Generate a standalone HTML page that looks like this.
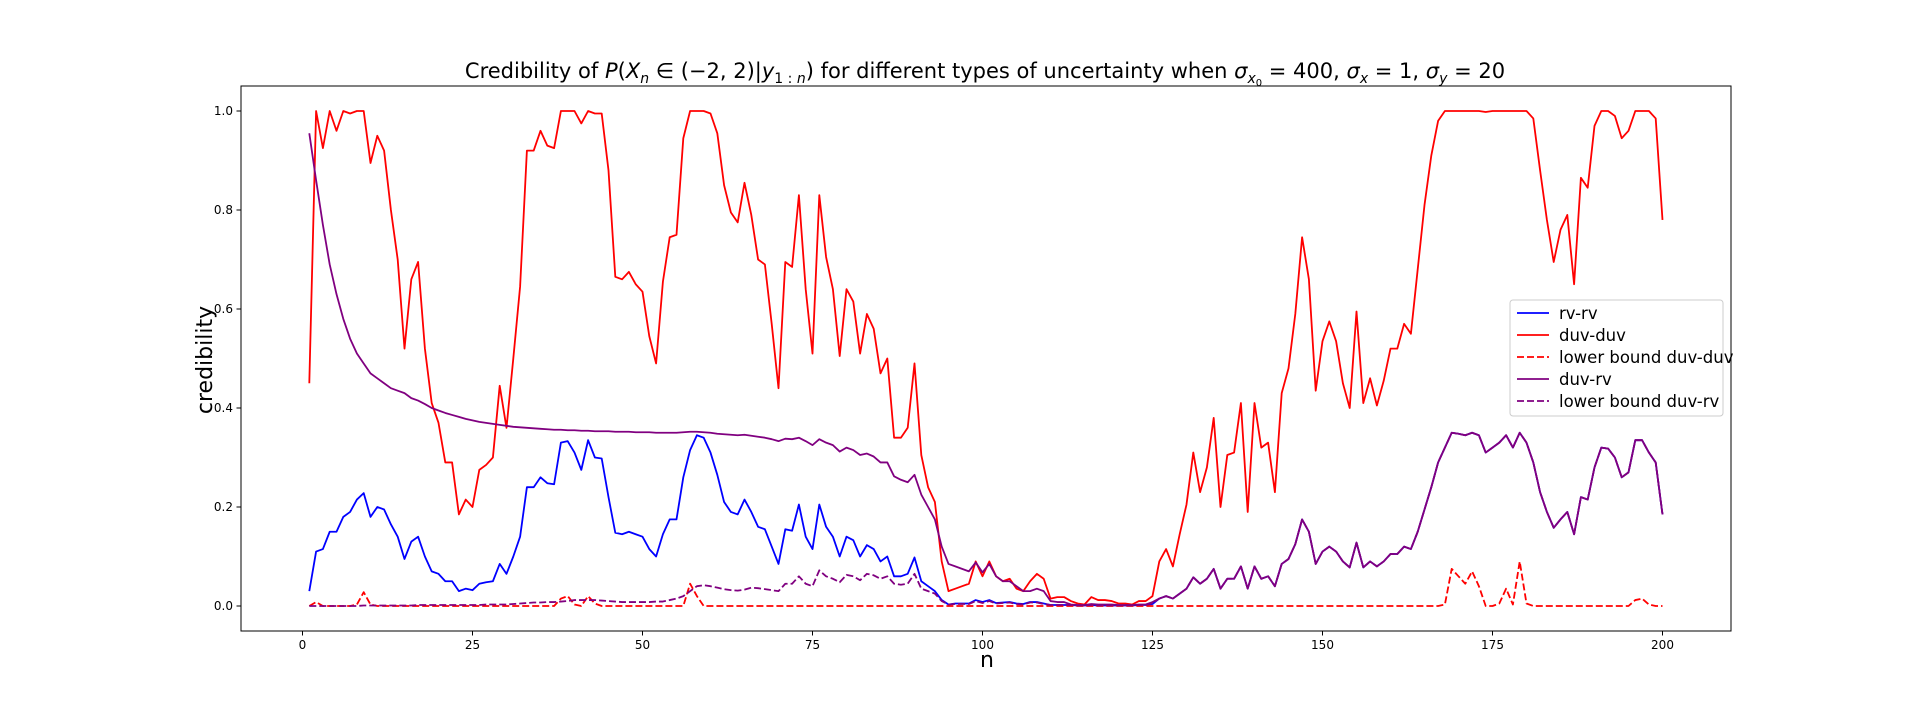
<!DOCTYPE html>
<html><head><meta charset="utf-8">
<style>
html,body{margin:0;padding:0;background:#fff;}
body{width:1924px;height:720px;overflow:hidden;position:relative;font-family:"DejaVu Sans","Liberation Sans",sans-serif;}
svg{position:absolute;left:0;top:0;}
</style></head>
<body>
<svg id="chart" width="1924" height="720">
<text x="985" y="78" text-anchor="middle" font-size="21" fill="#000">Credibility of <tspan font-style="italic">P</tspan>(<tspan font-style="italic">X</tspan><tspan font-style="italic" font-size="14" dy="5">n</tspan><tspan dy="-5"> ∈ (−2, 2)|</tspan><tspan font-style="italic">y</tspan><tspan font-size="14" dy="5">1 : <tspan font-style="italic">n</tspan></tspan><tspan dy="-5">) for different types of uncertainty when </tspan><tspan font-style="italic">σ</tspan><tspan font-style="italic" font-size="14" dy="5">x</tspan><tspan font-size="10" dy="3">0</tspan><tspan dy="-8"> = 400, </tspan><tspan font-style="italic">σ</tspan><tspan font-style="italic" font-size="14" dy="5">x</tspan><tspan dy="-5"> = 1, </tspan><tspan font-style="italic">σ</tspan><tspan font-style="italic" font-size="14" dy="5">y</tspan><tspan dy="-5"> = 20</tspan></text>
<g id="plot"></g>
<text x="987" y="667" text-anchor="middle" font-size="22">n</text>
<text x="0" y="0" transform="translate(212,360) rotate(-90)" text-anchor="middle" font-size="22">credibility</text>
</svg>
<script>
const xTicks=[0,25,50,75,100,125,150,175,200];
const yTicks=[0.0,0.2,0.4,0.6,0.8,1.0];
const yTickLabels=["0.0","0.2","0.4","0.6","0.8","1.0"];
const duvDuv=[.45,1.0,.925,1.0,.96,1.0,.995,1.0,1.0,.895,
.95,.92,.8,.7,.52,.66,.695,.52,.41,.37,
.29,.29,.185,.215,.2,.275,.285,.3,.445,.36,
.5,.645,.92,.92,.96,.93,.925,1.0,1.0,1.0,
.975,1.0,.995,.995,.88,.665,.66,.675,.65,.635,
.545,.49,.655,.745,.75,.945,1.0,1.0,1.0,.995,
.955,.85,.795,.775,.855,.79,.7,.69,.57,.44,
.695,.685,.83,.64,.51,.83,.705,.64,.505,.64,
.615,.51,.59,.56,.47,.5,.34,.34,.36,.49,
.305,.24,.21,.09,.03,.035,.04,.045,.09,.06,
.09,.06,.05,.055,.035,.03,.05,.065,.055,.015,
.018,.018,.01,.005,.003,.018,.012,.012,.01,.005,
.005,.003,.01,.01,.02,.09,.115,.08,.145,.205,
.31,.23,.28,.38,.2,.305,.31,.41,.19,.41,
.32,.33,.23,.43,.48,.59,.745,.66,.435,.535,
.575,.535,.45,.4,.595,.41,.46,.405,.455,.52,
.52,.57,.55,.68,.81,.91,.98,1.0,1.0,1.0,
1.0,1.0,1.0,.998,1.0,1.0,1.0,1.0,1.0,1.0,
.985,.88,.78,.695,.76,.79,.65,.865,.845,.97,
1.0,1.0,.99,.945,.96,1.0,1.0,1.0,.985,.78];
const duvRv=[.955,.86,.77,.69,.63,.58,.54,.51,.49,.47,
.46,.45,.44,.435,.43,.42,.415,.408,.4,.395,
.39,.386,.382,.378,.375,.372,.37,.368,.366,.364,
.362,.361,.36,.359,.358,.357,.356,.356,.355,.355,
.354,.354,.353,.353,.353,.352,.352,.352,.351,.351,
.351,.35,.35,.35,.35,.351,.352,.352,.351,.35,
.348,.347,.346,.345,.346,.344,.342,.34,.337,.333,
.338,.337,.34,.333,.325,.337,.33,.325,.312,.32,
.315,.305,.308,.302,.29,.29,.262,.255,.25,.265,
.225,.2,.175,.12,.085,.08,.075,.07,.088,.068,
.085,.06,.05,.05,.04,.03,.03,.035,.03,.01,
.008,.008,.003,.002,.002,.004,.003,.003,.003,.002,
.002,.002,.003,.003,.008,.015,.02,.015,.025,.035,
.058,.045,.055,.075,.035,.055,.055,.08,.035,.08,
.055,.06,.04,.085,.095,.125,.175,.15,.085,.11,
.12,.11,.09,.078,.128,.078,.09,.08,.09,.105,
.105,.12,.115,.15,.195,.24,.29,.32,.35,.348,
.345,.35,.345,.31,.32,.33,.345,.32,.35,.33,
.29,.23,.19,.158,.175,.19,.145,.22,.215,.28,
.32,.318,.3,.26,.27,.335,.335,.31,.29,.185];
const rvRvEarly=[.03,.11,.115,.15,.15,.18,.19,.215,.228,.18,
.2,.195,.165,.14,.095,.13,.14,.1,.07,.065,
.05,.05,.03,.035,.032,.045,.048,.05,.085,.065,
.1,.14,.24,.24,.26,.248,.246,.33,.333,.31,
.275,.335,.3,.298,.22,.148,.145,.15,.145,.14,
.115,.1,.145,.175,.175,.26,.315,.345,.34,.31,
.265,.21,.19,.185,.215,.19,.16,.155,.12,.085,
.155,.152,.205,.14,.115,.205,.16,.14,.1,.14,
.133,.1,.123,.115,.09,.1,.06,.06,.065,.098,
.05,.04,.03,.012,.003,.005,.005,.005,.012,.008,
.012,.006,.007,.008,.005,.004,.008,.008,.005,.002,
.002,.002,.002,.001,.001,.002,.001,.001,.001,.001,
.001,.001,.002,.002,.004];
const rvRv=rvRvEarly.concat(duvRv.slice(125));
const lbDuvDuv=[0,.008,0,0,0,0,0,.003,.028,.003,
0,0,0,0,0,0,0,0,0,0,
0,0,0,0,0,0,0,0,0,0,
0,0,0,0,0,0,0,.015,.02,.003,
0,.02,.005,0,0,0,0,0,0,0,
0,0,0,0,0,0,.045,.02,0,0,
0,0,0,0,0,0,0,0,0,0,
0,0,0,0,0,0,0,0,0,0,
0,0,0,0,0,0,0,0,0,0,
0,0,0,0,0,0,0,0,0,0,
0,0,0,0,0,0,0,0,0,0,
0,0,0,0,0,0,0,0,0,0,
0,0,0,0,0,0,0,0,0,0,
0,0,0,0,0,0,0,0,0,0,
0,0,0,0,0,0,0,0,0,0,
0,0,0,0,0,0,0,0,0,0,
0,0,0,0,0,0,0,.003,.075,.06,
.045,.07,.04,0,0,.005,.035,.003,.09,.005,
0,0,0,0,0,0,0,0,0,0,
0,0,0,0,0,.012,.015,.003,0,0];
const lbDuvRvEarly=[0,0,0,0,0,0,0,0,.001,.001,
.001,.001,.001,.001,.001,.001,.002,.002,.002,.002,
.002,.002,.002,.002,.002,.002,.003,.003,.003,.003,
.004,.005,.006,.007,.007,.008,.008,.009,.01,.012,
.012,.012,.012,.011,.01,.009,.008,.008,.008,.008,
.008,.009,.009,.012,.015,.02,.03,.04,.042,.04,
.037,.034,.032,.031,.033,.037,.036,.034,.032,.03,
.045,.045,.06,.045,.04,.072,.06,.055,.048,.063,
.06,.052,.065,.062,.055,.06,.045,.043,.045,.065,
.035,.03,.025,.01,.003,.004,.004,.004,.01,.006,
.01,.005,.006,.007,.004,.003,.007,.007,.004,.002,
.002,.002,.002,.001,.001,.002,.001,.001,.001,.001,
.001,.001,.002,.002,.006];
const lbDuvRv=lbDuvRvEarly.concat(duvRv.slice(125));

const NS="http://www.w3.org/2000/svg";
const L=241,R=1731,T=86,B=631;
const X0=302.5,X200=1662.5,Y0=606,Y1=111;
function sx(n){return X0+(X200-X0)*n/200;}
function sy(v){return Y0+(Y1-Y0)*v;}
const g=document.getElementById('plot');
function mk(tag,attrs,parent){const e=document.createElementNS(NS,tag);for(const k in attrs)e.setAttribute(k,attrs[k]);(parent||g).appendChild(e);return e;}

const series=[
 {name:'series-rv-rv',data:rvRv,color:'#0000ff',dash:null},
 {name:'series-duv-duv',data:duvDuv,color:'#ff0000',dash:null},
 {name:'series-lower-bound-duv-duv',data:lbDuvDuv,color:'#ff0000',dash:'7,3'},
 {name:'series-duv-rv',data:duvRv,color:'#800080',dash:null},
 {name:'series-lower-bound-duv-rv',data:lbDuvRv,color:'#800080',dash:'7,3'}
];
series.forEach(s=>{
 const pts=s.data.map((v,i)=>sx(i+1).toFixed(2)+','+sy(v).toFixed(2)).join(' ');
 const a={points:pts,fill:'none',stroke:s.color,'stroke-width':1.8,'stroke-linejoin':'round'};
 if(s.dash)a['stroke-dasharray']=s.dash;
 const p=mk('polyline',a);
 
 
});
const frame=mk('rect',{x:L,y:T,width:R-L,height:B-T,fill:'none',stroke:'#000','stroke-width':1});


xTicks.forEach(t=>{
 const x=sx(t);
 const tk=mk('line',{x1:x,y1:B,x2:x,y2:B+4.5,stroke:'#000','stroke-width':1});
 
 
 const tx=mk('text',{x:x,y:B+18,'text-anchor':'middle','font-size':12});
 tx.textContent=t;
 
 
});
yTicks.forEach((t,i)=>{
 const y=sy(t);
 const tk=mk('line',{x1:L-4.5,y1:y,x2:L,y2:y,stroke:'#000','stroke-width':1});
 
 
 const tx=mk('text',{x:L-8,y:y+4,'text-anchor':'end','font-size':12});
 tx.textContent=yTickLabels[i];
 
 
});
// legend
const lg=mk('g',{});


mk('rect',{x:1510,y:300,width:213,height:116,rx:3,fill:'#fff','fill-opacity':0.85,stroke:'#ccc','stroke-width':1},lg);
const labels=['rv-rv','duv-duv','lower bound duv-duv','duv-rv','lower bound duv-rv'];
series.forEach((s,i)=>{
 const y=313+i*22;
 const a={x1:1517,y1:y,x2:1549,y2:y,stroke:s.color,'stroke-width':1.8};
 if(s.dash)a['stroke-dasharray']=s.dash;
 const ln=mk('line',a,lg);
 
 
 const t=mk('text',{x:1559,y:y+6,'font-size':16.5},lg);
 t.textContent=labels[i];
 
 
});
</script>
</body></html>
